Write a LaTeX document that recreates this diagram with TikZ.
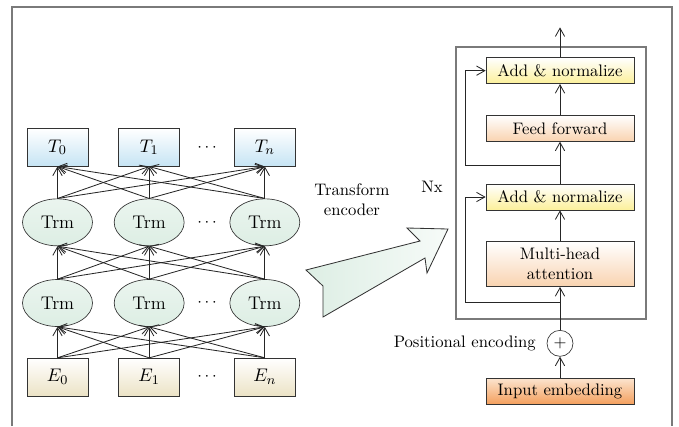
\documentclass[tikz,border=0pt]{standalone}
\usepackage{xcolor}
\usepackage{tikz}
\usetikzlibrary{shapes.geometric, arrows.meta, positioning}
\definecolor{tokblue}{HTML}{C6E4F4}
\definecolor{trmgreen}{HTML}{DDEEE4}
\definecolor{embbeige}{HTML}{ECE3C6}
\definecolor{normyellow}{HTML}{FCF09A}
\definecolor{subpeach}{HTML}{F9D3B0}
\definecolor{inorange}{HTML}{F4A05E}
\definecolor{framegray}{HTML}{7A7A7A}

\begin{document}
\begin{tikzpicture}[
    x=0.6pt, y=-0.6pt,
    tok/.style={rectangle, draw=black!80, minimum width=36.6pt, minimum height=22.6pt, inner sep=0pt, font=\fontsize{11}{13}\selectfont},
    outtok/.style={tok, top color=white, bottom color=tokblue},
    intok/.style={tok, top color=white, bottom color=embbeige},
    trm/.style={ellipse, draw=black!80, minimum width=42pt, minimum height=28.2pt, inner sep=0pt, top color=trmgreen!60, bottom color=trmgreen, font=\fontsize{11}{13}\selectfont},
    layer/.style={rectangle, draw=black!80, minimum width=88.8pt, minimum height=15.6pt, inner sep=0pt, align=center},
    norm/.style={layer, top color=white, bottom color=normyellow},
    sub/.style={layer, top color=white, bottom color=subpeach},
    arr/.style={-{Straight Barb[length=5pt, width=5.6pt]}, line width=0.5pt, color=black!85},
    frame/.style={draw=framegray, line width=1pt}
]
\useasboundingbox (0,0) rectangle (679,426);

% outer frame, open at the bottom
\draw[frame] (12,426) -- (12,7) -- (672,7) -- (672,426);

% BERT stack
\node[intok] (e0) at (57.5,377) {$E_0$};
\node[intok, right=18pt of e0] (e1) {$E_1$};
\node[intok, right=32.4pt of e1] (en) {$E_n$};

\node[trm, above=18.6pt of e0] (a0) {Trm};
\node[trm, above=18.6pt of e1] (a1) {Trm};
\node[trm, above=18.6pt of en] (an) {Trm};

\node[trm, above=19.8pt of a0] (b0) {Trm};
\node[trm, above=19.8pt of a1] (b1) {Trm};
\node[trm, above=19.8pt of an] (bn) {Trm};

\node[outtok, above=19.2pt of b0] (t0) {$T_0$};
\node[outtok, above=19.2pt of b1] (t1) {$T_1$};
\node[outtok, above=19.2pt of bn] (tn) {$T_n$};

\path (e1) -- (en) node[midway] (edots) {$\cdots$};
\path (a1) -- (an) node[midway] (adots) {$\cdots$};
\path (b1) -- (bn) node[midway] (bdots) {$\cdots$};
\path (t1) -- (tn) node[midway] (tdots) {$\cdots$};

% fully connected between layers
\foreach \s in {e0,e1,en}
  \foreach \d in {a0,a1,an}
    \draw[arr] (\s.north) -- (\d.south);
\foreach \s in {a0,a1,an}
  \foreach \d in {b0,b1,bn}
    \draw[arr] (\s.north) -- (\d.south);
\foreach \s in {b0,b1,bn}
  \foreach \d in {t0,t1,tn}
    \draw[arr] (\s.north) -- (\d.south);

% big block arrow
\draw[black!80, line width=0.5pt, left color=trmgreen, right color=trmgreen!25]
  (306,270) -- (420,241) -- (407,228) -- (448,229) -- (427,273) -- (425,258)
  -- (323,317) -- (323,286) -- cycle;
\node[align=center] (enclabel) at (352,200) {Transform\\encoder};

% encoder block
\node[layer, top color=subpeach!60, bottom color=inorange] (embed) at (560,391) {Input embedding};
\node[circle, draw=black!80, minimum size=15.6pt, inner sep=0pt, above=12.6pt of embed] (plus) {$+$};
\node[left=3pt of plus] (posenc) {Positional encoding};
\node[sub, minimum height=27pt, above=25.8pt of plus] (mha) {Multi-head\\attention};
\node[norm, above=18.6pt of mha] (an2) {Add \& normalize};
\node[sub, above=25.2pt of an2] (ff) {Feed forward};
\node[norm, above=18.6pt of ff] (an1) {Add \& normalize};
\coordinate[above=18pt of an1] (out);

\draw[frame] (456,47) rectangle (646,319);
\node (nx) at (432,187) {Nx};

\coordinate[below=9pt of mha] (skip1);
\coordinate[below=14.4pt of ff] (skip2);

\draw[arr] (embed) -- (plus);
\draw[arr] (plus) -- (mha);
\draw[arr] (mha) -- (an2);
\draw[arr] (an2) -- (ff);
\draw[arr] (ff) -- (an1);
\draw[arr] (an1) -- (out);
\draw[arr] (skip1) -- ++(-95,0) |- (an2.west);
\draw[arr] (skip2) -- ++(-95,0) |- (an1.west);

\end{tikzpicture}
\end{document}
